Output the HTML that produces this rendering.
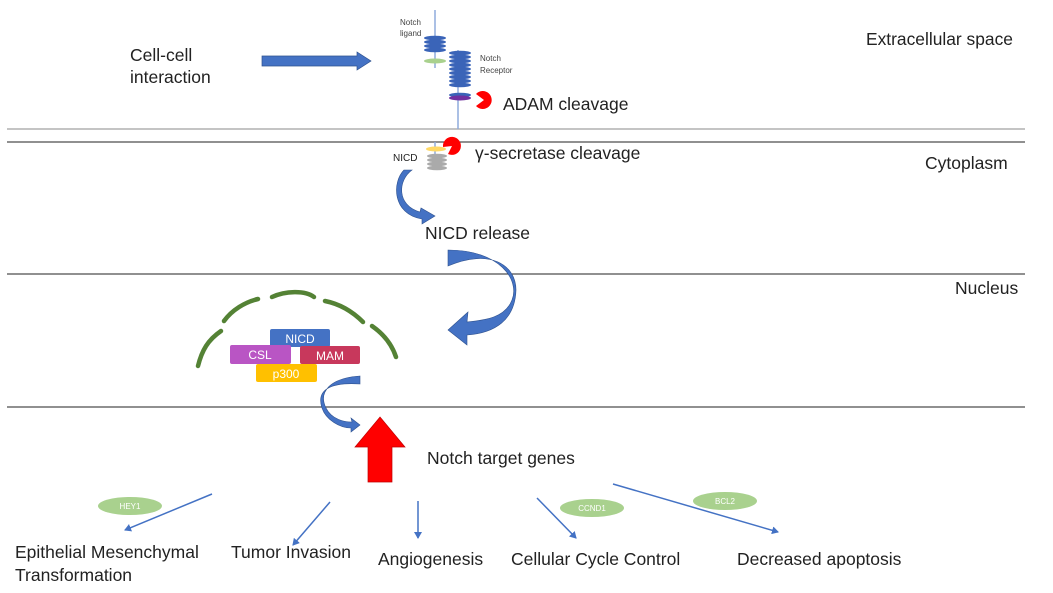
<!DOCTYPE html>
<html><head><meta charset="utf-8"><style>
body{margin:0;background:#fff;}
svg{display:block;font-family:"Liberation Sans",Calibri,sans-serif;}
</style></head><body>
<svg width="1053" height="593" viewBox="0 0 1053 593" xmlns="http://www.w3.org/2000/svg">
<defs>
<marker id="ah" markerWidth="8" markerHeight="8" refX="6" refY="4" orient="auto" markerUnits="userSpaceOnUse"><path d="M0,0 L7,4 L0,8 Z" fill="#4472c4"/></marker>
</defs>
<line x1="7" y1="129" x2="1025" y2="129" stroke="#888" stroke-width="1"/>
<line x1="7" y1="142" x2="1025" y2="142" stroke="#222" stroke-width="1"/>
<line x1="7" y1="274" x2="1025" y2="274" stroke="#222" stroke-width="1"/>
<line x1="7" y1="407" x2="1025" y2="407" stroke="#222" stroke-width="1"/>

<g font-size="17.5" fill="#222">
<text x="866" y="45" textLength="147" lengthAdjust="spacingAndGlyphs">Extracellular space</text>
<text x="925" y="169">Cytoplasm</text>
<text x="955" y="294">Nucleus</text>
<text x="130" y="61">Cell-cell</text>
<text x="130" y="83">interaction</text>
<text x="503" y="110">ADAM cleavage</text>
<text x="475" y="159">γ-secretase cleavage</text>
<text x="425" y="239">NICD release</text>
<text x="427" y="464">Notch target genes</text>
<text x="15" y="558">Epithelial Mesenchymal</text>
<text x="15" y="581">Transformation</text>
<text x="231" y="558">Tumor Invasion</text>
<text x="378" y="565">Angiogenesis</text>
<text x="511" y="565">Cellular Cycle Control</text>
<text x="737" y="565">Decreased apoptosis</text>
</g>
<g font-size="8" fill="#444">
<text x="400" y="25">Notch</text><text x="400" y="36">ligand</text>
<text x="480" y="61">Notch</text><text x="480" y="73">Receptor</text>
</g>
<text x="393" y="161" font-size="10" fill="#222">NICD</text>

<path d="M262,56 L357,56 L357,52 L371,61 L357,70 L357,66 L262,66 Z" fill="#4472c4" stroke="#2f528f" stroke-width="0.7"/>

<line x1="435" y1="10" x2="435" y2="68" stroke="#8faadc" stroke-width="1.5"/>
<g fill="#3a64b8">
<ellipse cx="435" cy="38" rx="11" ry="2.3"/><ellipse cx="435" cy="42" rx="11" ry="2.3"/><ellipse cx="435" cy="46" rx="11" ry="2.3"/><ellipse cx="435" cy="50" rx="11" ry="2.3"/>
</g>
<ellipse cx="435" cy="61" rx="11" ry="2.5" fill="#a9d18e"/>
<line x1="458" y1="50" x2="458" y2="129" stroke="#8faadc" stroke-width="1.5"/>
<g fill="#3a64b8">
<ellipse cx="460" cy="53" rx="11" ry="2.3"/><ellipse cx="460" cy="57" rx="11" ry="2.3"/><ellipse cx="460" cy="61" rx="11" ry="2.3"/><ellipse cx="460" cy="65" rx="11" ry="2.3"/><ellipse cx="460" cy="69" rx="11" ry="2.3"/><ellipse cx="460" cy="73" rx="11" ry="2.3"/><ellipse cx="460" cy="77" rx="11" ry="2.3"/><ellipse cx="460" cy="81" rx="11" ry="2.3"/><ellipse cx="460" cy="85" rx="11" ry="2.3"/>
<ellipse cx="460" cy="95" rx="11" ry="2.3"/>
</g>
<ellipse cx="460" cy="98" rx="11" ry="2.5" fill="#7030a0"/>
<path d="M484,100 L476,94 A9,9 0 1 1 476,106 Z" fill="#ff0000"/>
<line x1="435" y1="142" x2="435" y2="156" stroke="#8faadc" stroke-width="1.5"/>
<ellipse cx="436" cy="149" rx="10" ry="2.5" fill="#ffd966"/>
<g fill="#aaa">
<ellipse cx="437" cy="156" rx="10" ry="2.3"/><ellipse cx="437" cy="160" rx="10" ry="2.3"/><ellipse cx="437" cy="164" rx="10" ry="2.3"/><ellipse cx="437" cy="168" rx="10" ry="2.3"/>
</g>
<path d="M452,146 L443,147 A9,9 0 1 1 448,154 Z" fill="#ff0000"/>

<path d="M412,170 C398,180 396,205 420,212 L421,208 L435,216 L422,224 L422,219 C392,214 392,182 404,170 Z" fill="#4472c4" stroke="#2f528f" stroke-width="0.6"/>

<path d="M448,250 C500,250 520,280 512,300 C505,318 485,320 467,322 L468,312 L448,330 L467,345 L467,335 C495,333 515,320 516,290 C516,265 490,248 448,266 Z" fill="#4472c4" stroke="#2f528f" stroke-width="0.6"/>

<g fill="none" stroke="#548235" stroke-width="4.5" stroke-linecap="round">
<path d="M198,366 C202,350 208,340 221,331"/>
<path d="M224,321 C232,310 245,302 258,299"/>
<path d="M272,297 C285,291 305,290 314,297"/>
<path d="M325,301 C340,304 352,311 363,322"/>
<path d="M372,326 C385,335 392,345 396,357"/>
</g>

<rect x="270" y="329" width="60" height="18" rx="2" fill="#4472c4"/>
<rect x="230" y="345" width="61" height="19" rx="2" fill="#b955c4"/>
<rect x="300" y="346" width="60" height="18" rx="2" fill="#c8385c"/>
<rect x="256" y="364" width="61" height="18" rx="2" fill="#ffc000"/>
<g fill="#fff" font-size="12" text-anchor="middle">
<text x="300" y="343">NICD</text>
<text x="260" y="359">CSL</text>
<text x="330" y="360">MAM</text>
<text x="286" y="378">p300</text>
</g>

<path d="M360,376 C330,378 318,392 326,408 C332,420 345,422 352,422 L351,418 L360,425 L351,432 L351,428 C340,428 326,420 322,408 C316,390 330,382 360,384 Z" fill="#4472c4" stroke="#2f528f" stroke-width="0.6"/>

<path d="M380,417 L405,447 L392,447 L392,482 L368,482 L368,447 L355,447 Z" fill="#ff0000" stroke="#c00000" stroke-width="0.7"/>

<g stroke="#4472c4" stroke-width="1.5" marker-end="url(#ah)">
<line x1="212" y1="494" x2="125" y2="530"/>
<line x1="330" y1="502" x2="293" y2="545"/>
<line x1="418" y1="501" x2="418" y2="538"/>
<line x1="537" y1="498" x2="576" y2="538"/>
<line x1="613" y1="484" x2="778" y2="532"/>
</g>

<ellipse cx="130" cy="506" rx="32" ry="9" fill="#a9d18e"/>
<ellipse cx="592" cy="508" rx="32" ry="9" fill="#a9d18e"/>
<ellipse cx="725" cy="501" rx="32" ry="9" fill="#a9d18e"/>
<g fill="#fff" font-size="8" text-anchor="middle">
<text x="130" y="509">HEY1</text>
<text x="592" y="511">CCND1</text>
<text x="725" y="504">BCL2</text>
</g>
</svg>
</body></html>
